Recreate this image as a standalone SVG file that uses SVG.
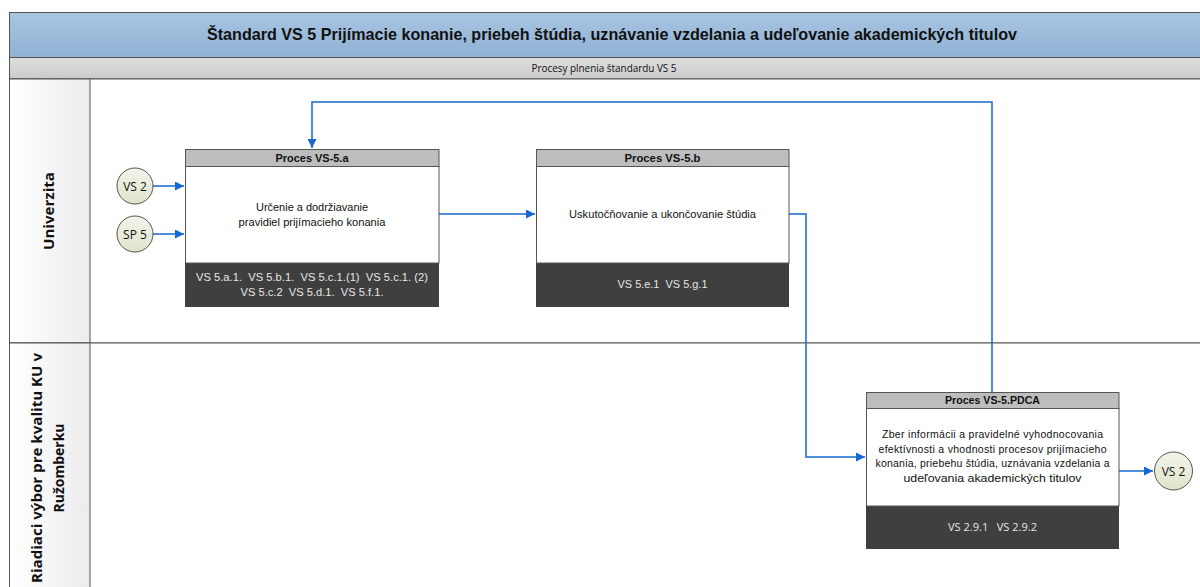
<svg xmlns="http://www.w3.org/2000/svg" width="1200" height="587" viewBox="0 0 1200 587">
<defs>
<linearGradient id="gTitle" x1="0" y1="0" x2="0" y2="1"><stop offset="0" stop-color="#a9c5e1"/><stop offset="1" stop-color="#8fb1d4"/></linearGradient>
<linearGradient id="gSub" x1="0" y1="0" x2="0" y2="1"><stop offset="0" stop-color="#dedede"/><stop offset="1" stop-color="#cbcbcb"/></linearGradient>
<linearGradient id="gLane" x1="0" y1="0" x2="1" y2="0"><stop offset="0" stop-color="#ffffff"/><stop offset="1" stop-color="#ececec"/></linearGradient>
<linearGradient id="gCirc" x1="0" y1="0" x2="0" y2="1"><stop offset="0" stop-color="#f4f4ea"/><stop offset="1" stop-color="#dfe3cb"/></linearGradient>
<marker id="arr" viewBox="0 0 10 10" refX="10" refY="5" markerWidth="9" markerHeight="9" markerUnits="userSpaceOnUse" orient="auto"><path d="M0,0 L10,5 L0,10 z" fill="#1569d0"/></marker>
</defs>
<style>
text{white-space:pre}
.t{font-family:"Liberation Sans",Arial,sans-serif;text-anchor:middle}
.c{font-family:"Open Sans","Liberation Sans",sans-serif;text-anchor:middle}
.hdr{fill:#bdbdbd;stroke:#555;stroke-width:1}
.body{fill:#fff;stroke:#555;stroke-width:1}
.foot{fill:#3f3f3f}
.conn{fill:none;stroke:#1569d0;stroke-width:1.5}
.circ{fill:url(#gCirc);stroke:#555;stroke-width:1}
.ft{fill:#e6e6e6;font-size:11px}
.bt{fill:#111;font-size:10.5px}
.ht{fill:#111;font-size:11px;font-weight:bold}
</style>
<rect width="1200" height="587" fill="#fff"/>
<g id="pool">
<rect x="9.5" y="12.5" width="1195" height="45" fill="url(#gTitle)" stroke="#555"/>
<text class="t" x="612" y="40" font-size="17" font-weight="bold" fill="#111" textLength="810" lengthAdjust="spacingAndGlyphs">Štandard VS 5 Prijímacie konanie, priebeh štúdia, uznávanie vzdelania a udeľovanie akademických titulov</text>
<rect x="9.5" y="57.5" width="1195" height="21.5" fill="url(#gSub)" stroke="#555"/>
<text class="c" x="604" y="72" font-size="10" fill="#111" textLength="145" lengthAdjust="spacingAndGlyphs">Procesy plnenia štandardu VS 5</text>
</g>
<g id="lane-univerzita">
<rect x="9.5" y="79" width="1195" height="264" fill="#fff" stroke="#555"/>
<rect x="9.5" y="79" width="80.5" height="264" fill="url(#gLane)" stroke="#555"/>
<text class="c" transform="translate(54,211) rotate(-90)" font-size="14" font-weight="bold" fill="#111" textLength="78" lengthAdjust="spacingAndGlyphs">Univerzita</text>
</g>
<g id="lane-riadiaci">
<rect x="9.5" y="343" width="1195" height="260" fill="#fff" stroke="#555"/>
<rect x="9.5" y="343" width="80.5" height="260" fill="url(#gLane)" stroke="#555"/>
<text class="c" transform="translate(42,468) rotate(-90)" font-size="14" font-weight="bold" fill="#111" textLength="230" lengthAdjust="spacingAndGlyphs">Riadiaci výbor pre kvalitu KU v</text>
<text class="c" transform="translate(64,468) rotate(-90)" font-size="14" font-weight="bold" fill="#111">Ružomberku</text>
</g>
<g id="connectors">
<line class="conn" x1="153" y1="186" x2="184" y2="186" marker-end="url(#arr)"/>
<line class="conn" x1="153" y1="234" x2="184" y2="234" marker-end="url(#arr)"/>
<line class="conn" x1="439" y1="214" x2="535" y2="214" marker-end="url(#arr)"/>
<polyline class="conn" points="789,214 806,214 806,457 865,457" marker-end="url(#arr)"/>
<polyline class="conn" points="992,392 992,102 312,102 312,148" marker-end="url(#arr)"/>
<line class="conn" x1="1119" y1="471" x2="1153" y2="471" marker-end="url(#arr)"/>
</g>
<g id="vs2-in">
<circle class="circ" cx="135" cy="186" r="18"/>
<text class="c" x="135" y="191" font-size="12" fill="#111">VS 2</text>
</g>
<g id="sp5-in">
<circle class="circ" cx="135" cy="234" r="18"/>
<text class="c" x="135" y="239" font-size="12" fill="#111">SP 5</text>
</g>
<g id="proces-a">
<rect class="foot" x="185" y="263" width="254" height="44"/>
<rect class="body" x="185.5" y="166.5" width="253.5" height="96.5"/>
<rect class="hdr" x="185.5" y="149.5" width="253.5" height="17"/>
<text class="t ht" x="312" y="162" textLength="73" lengthAdjust="spacingAndGlyphs">Proces VS-5.a</text>
<text class="t bt" x="312" y="211" textLength="112" lengthAdjust="spacingAndGlyphs">Určenie a dodržiavanie</text>
<text class="t bt" x="312" y="226" textLength="147" lengthAdjust="spacingAndGlyphs">pravidiel prijímacieho konania</text>
<text class="t ft" x="312" y="281" textLength="232" lengthAdjust="spacingAndGlyphs">VS 5.a.1.  VS 5.b.1.  VS 5.c.1.(1)  VS 5.c.1. (2)</text>
<text class="t ft" x="312" y="296" textLength="143" lengthAdjust="spacingAndGlyphs">VS 5.c.2  VS 5.d.1.  VS 5.f.1.</text>
</g>
<g id="proces-b">
<rect class="foot" x="536" y="263" width="253" height="44"/>
<rect class="body" x="536.5" y="166.5" width="252.5" height="96.5"/>
<rect class="hdr" x="536.5" y="149.5" width="252.5" height="17"/>
<text class="t ht" x="662.5" y="162" textLength="76" lengthAdjust="spacingAndGlyphs">Proces VS-5.b</text>
<text class="t bt" x="662.5" y="218" textLength="187" lengthAdjust="spacingAndGlyphs">Uskutočňovanie a ukončovanie štúdia</text>
<text class="t ft" x="662.5" y="288" textLength="90" lengthAdjust="spacingAndGlyphs">VS 5.e.1  VS 5.g.1</text>
</g>
<g id="proces-pdca">
<rect class="foot" x="866" y="506" width="253" height="43"/>
<rect class="body" x="866.5" y="408.5" width="252.5" height="97.5"/>
<rect class="hdr" x="866.5" y="392.5" width="252.5" height="16"/>
<text class="t ht" x="992.5" y="404" textLength="95" lengthAdjust="spacingAndGlyphs">Proces VS-5.PDCA</text>
<text class="t bt" x="992.5" y="438" textLength="221" lengthAdjust="spacing">Zber informácii a pravidelné vyhodnocovania</text>
<text class="t bt" x="992.5" y="453" textLength="228" lengthAdjust="spacing">efektívnosti a vhodnosti procesov prijímacieho</text>
<text class="t bt" x="992.5" y="467" textLength="234" lengthAdjust="spacing">konania, priebehu štúdia, uznávania vzdelania a</text>
<text class="t bt" x="992.5" y="482" textLength="178" lengthAdjust="spacingAndGlyphs">udeľovania akademických titulov</text>
<text class="c ft" x="992.5" y="531" textLength="89" lengthAdjust="spacingAndGlyphs">VS 2.9.1   VS 2.9.2</text>
</g>
<g id="vs2-out">
<circle class="circ" cx="1173.5" cy="471" r="19"/>
<text class="c" x="1173.5" y="476" font-size="12" fill="#111">VS 2</text>
</g>
</svg>
